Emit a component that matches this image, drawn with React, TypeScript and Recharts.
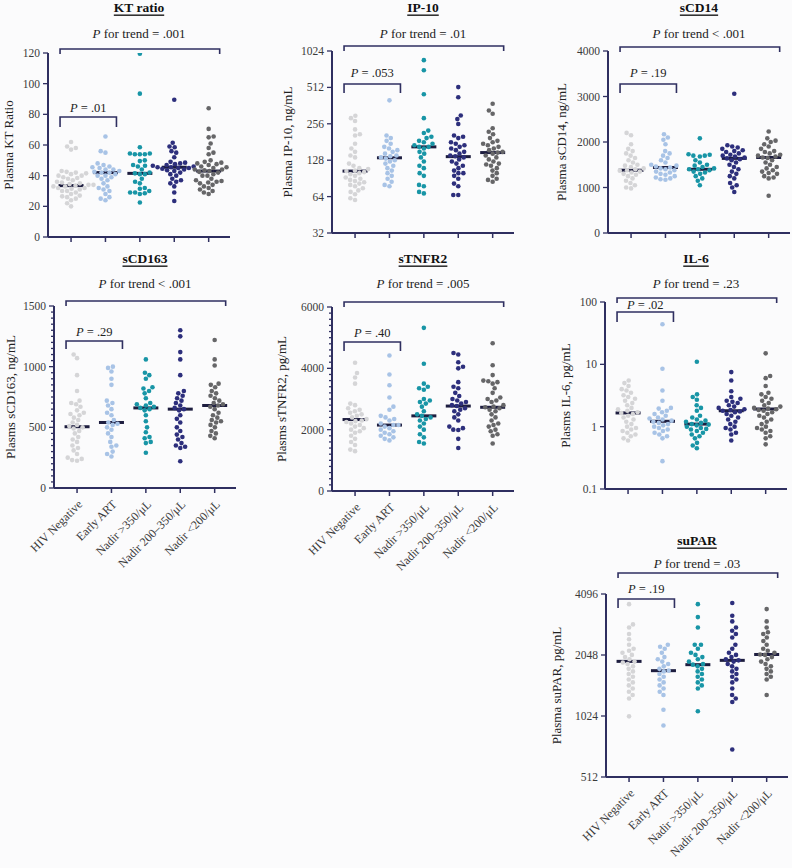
import React from "react";
import { ScatterChart, Scatter, XAxis, YAxis } from "recharts";

const groups = ["HIV Negative", "Early ART", "Nadir >350/\u03bcL", "Nadir 200\u2013350/\u03bcL", "Nadir <200/\u03bcL"];
const dotColors = ["#d5d5d7", "#a8c3e6", "#1895a6", "#2d2f7c", "#666668"];
const MEDIAN_COLOR = "#1d1d3f";
const AXIS_COLOR = "#2f2f60";
const TEXT_COLOR = "#3a3a3a";
const FONT = "'Liberation Serif', 'DejaVu Serif', serif";

// ---- KT ratio
const ktValues = [
  [62, 59, 58, 57, 43, 42.5, 42, 41.5, 41, 40, 40, 39, 38.5, 38, 37, 36, 35.5, 35, 34.5, 34, 34, 33.5, 33, 33, 32, 32, 31.5, 31, 30, 30, 29, 28, 27, 26.5, 26, 25, 24, 22, 20],
  [65.5, 56, 55, 48, 47, 46, 45.5, 45, 44, 44, 43, 42.5, 42, 42, 41, 40, 40, 39, 38, 37, 35, 33, 32, 31, 30, 28, 26, 25, 24],
  [119.5, 93.5, 58.5, 54.5, 54.5, 54, 54, 54, 50, 49.5, 47, 46.5, 46, 44, 42, 41.5, 41, 41, 38, 36, 35, 32, 31.5, 30, 29, 29, 28.5, 28, 22.5],
  [89.5, 61.5, 59, 58.5, 56, 55, 52, 49, 48.5, 48, 47.5, 47, 46.5, 46, 45.5, 45.5, 45, 45, 44.5, 44, 43.5, 43, 42, 41, 40, 38, 37, 36, 35, 33, 29, 23.5],
  [84, 70.5, 65.5, 65, 61, 58, 55, 54, 50, 49, 48.5, 48, 47.5, 47, 46, 45.5, 45, 44, 44, 43.5, 43, 42.5, 42, 41, 40, 40, 38, 37, 36.5, 36, 35.5, 35, 34, 33, 32, 31, 30, 29, 28],
];
const ktMedians = [33.5, 42, 41.5, 45.5, 43];
const ktTicks = [0, 20, 40, 60, 80, 100, 120];

// ---- IP-10
const ipValues = [
  [298, 285, 270, 230, 210, 205, 175, 160, 150, 140, 135, 120, 115, 110, 108, 105, 104, 102, 100, 98, 95, 92, 90, 88, 86, 84, 82, 80, 78, 75, 72, 70, 67, 62, 60],
  [400, 205, 195, 185, 175, 165, 160, 155, 150, 145, 140, 138, 135, 132, 128, 125, 120, 115, 110, 105, 100, 95, 90, 85, 80, 78],
  [860, 710, 450, 285, 225, 215, 200, 195, 185, 180, 175, 170, 165, 165, 160, 150, 145, 135, 125, 115, 110, 100, 95, 80, 78, 70, 68],
  [515, 425, 300, 280, 255, 205, 200, 195, 180, 175, 170, 165, 160, 155, 150, 145, 140, 138, 135, 130, 125, 120, 115, 110, 105, 100, 100, 95, 90, 82, 78, 66, 66],
  [375, 330, 310, 235, 220, 210, 195, 185, 180, 175, 170, 165, 160, 155, 150, 148, 145, 140, 135, 130, 125, 120, 118, 115, 110, 105, 100, 95, 90, 88, 85],
];
const ipMedians = [104, 134, 165, 137, 148];
const ipTicks = [32, 64, 128, 256, 512, 1024];

// ---- sCD14
const cd14Values = [
  [2200, 2150, 1950, 1850, 1800, 1750, 1700, 1650, 1600, 1550, 1500, 1480, 1450, 1420, 1400, 1380, 1370, 1350, 1330, 1300, 1280, 1250, 1200, 1150, 1100, 1050, 1000, 980],
  [2170, 2100, 2050, 1950, 1800, 1750, 1700, 1650, 1600, 1550, 1500, 1480, 1460, 1440, 1420, 1400, 1380, 1350, 1330, 1300, 1280, 1250, 1220, 1200, 1180, 1170],
  [2080, 1730, 1720, 1700, 1700, 1680, 1600, 1550, 1500, 1480, 1450, 1420, 1400, 1400, 1380, 1350, 1330, 1300, 1250, 1200, 1150, 1050],
  [3060, 1930, 1900, 1880, 1850, 1820, 1800, 1780, 1750, 1720, 1700, 1680, 1660, 1640, 1620, 1600, 1550, 1500, 1450, 1400, 1350, 1300, 1250, 1200, 1100, 1050, 1000, 900],
  [2230, 2080, 2030, 2000, 1950, 1900, 1850, 1800, 1780, 1750, 1720, 1700, 1680, 1660, 1650, 1600, 1550, 1500, 1450, 1420, 1380, 1350, 1320, 1300, 1250, 1220, 1200, 820],
];
const cd14Medians = [1380, 1440, 1400, 1640, 1660];
const cd14Ticks = [0, 1000, 2000, 3000, 4000];

// ---- sCD163
const cd163Values = [
  [1100, 1070, 930, 800, 720, 700, 690, 670, 640, 620, 610, 600, 580, 560, 540, 520, 510, 500, 490, 470, 450, 420, 400, 380, 350, 330, 310, 280, 250, 240, 230, 225],
  [1000, 990, 960, 900, 850, 720, 700, 680, 650, 620, 600, 560, 540, 530, 520, 500, 480, 450, 420, 380, 350, 340, 300, 280, 260],
  [1060, 950, 930, 900, 830, 820, 800, 780, 740, 700, 690, 680, 670, 660, 650, 640, 600, 550, 500, 460, 420, 410, 380, 370, 290],
  [1300, 1250, 1120, 1060, 930, 800, 780, 760, 740, 720, 700, 680, 660, 650, 640, 600, 570, 540, 500, 470, 440, 420, 400, 370, 350, 340, 330, 220],
  [1220, 1060, 1010, 860, 850, 830, 800, 780, 760, 740, 720, 700, 690, 680, 670, 650, 620, 600, 580, 560, 550, 540, 520, 500, 470, 450, 430, 410],
];
const cd163Medians = [505, 540, 660, 650, 680];
const cd163Ticks = [0, 500, 1000, 1500];

// ---- sTNFR2
const tnfValues = [
  [4180, 3850, 3700, 3500, 2850, 2800, 2700, 2650, 2600, 2550, 2500, 2450, 2400, 2350, 2300, 2280, 2250, 2200, 2150, 2100, 2050, 2000, 1950, 1900, 1800, 1700, 1600, 1500, 1350, 1300],
  [4420, 3800, 3450, 3050, 2750, 2650, 2450, 2400, 2350, 2300, 2200, 2150, 2150, 2100, 2050, 2000, 1950, 1900, 1850, 1800, 1750, 1700, 1650],
  [5320, 4150, 3500, 3400, 3350, 3300, 3000, 2950, 2900, 2850, 2750, 2600, 2500, 2450, 2400, 2350, 2300, 2200, 2100, 2000, 1850, 1750, 1600, 1550],
  [4500, 4450, 4200, 4050, 4000, 3550, 3400, 3350, 3200, 3100, 3000, 2950, 2900, 2850, 2800, 2770, 2700, 2650, 2600, 2500, 2400, 2300, 2100, 2050, 2000, 1990, 1700, 1400],
  [4820, 4100, 3780, 3600, 3580, 3550, 3500, 3350, 3200, 3050, 3000, 2950, 2900, 2800, 2750, 2730, 2700, 2650, 2600, 2500, 2400, 2300, 2200, 2150, 2100, 2000, 1950, 1850, 1800, 1550],
];
const tnfMedians = [2330, 2150, 2450, 2770, 2730];
const tnfTicks = [0, 2000, 4000, 6000];

// ---- IL-6
const il6Values = [
  [5.5, 5.0, 4.5, 4.0, 3.8, 3.5, 3.2, 3.0, 2.8, 2.6, 2.4, 2.2, 2.0, 1.9, 1.8, 1.7, 1.65, 1.6, 1.5, 1.4, 1.3, 1.2, 1.1, 1.0, 0.95, 0.9, 0.85, 0.8, 0.75, 0.7, 0.65, 0.6],
  [44, 8.5, 3.8, 2.6, 2.0, 1.95, 1.8, 1.7, 1.6, 1.5, 1.4, 1.35, 1.3, 1.25, 1.2, 1.15, 1.1, 1.05, 1.0, 0.95, 0.9, 0.85, 0.8, 0.75, 0.7, 0.65, 0.28],
  [11, 3.3, 3.0, 2.7, 2.2, 2.0, 1.8, 1.5, 1.4, 1.3, 1.25, 1.2, 1.15, 1.1, 1.08, 1.05, 1.0, 0.95, 0.92, 0.9, 0.85, 0.8, 0.75, 0.7, 0.65, 0.55, 0.5, 0.45],
  [7.5, 5.5, 3.7, 3.0, 2.8, 2.6, 2.5, 2.4, 2.2, 2.1, 2.0, 1.9, 1.85, 1.8, 1.75, 1.7, 1.6, 1.5, 1.4, 1.3, 1.2, 1.1, 1.0, 0.95, 0.9, 0.8, 0.75, 0.6],
  [15, 6.5, 6.0, 4.5, 3.5, 3.3, 3.0, 2.8, 2.6, 2.4, 2.2, 2.1, 2.0, 1.95, 1.9, 1.85, 1.8, 1.7, 1.6, 1.5, 1.4, 1.3, 1.2, 1.1, 1.0, 0.95, 0.9, 0.85, 0.8, 0.7, 0.65, 0.52],
];
const il6Medians = [1.66, 1.22, 1.1, 1.8, 1.92];
const il6Ticks = [0.1, 1, 10, 100];

// ---- suPAR
const suparValues = [
  [3650, 2900, 2800, 2600, 2450, 2300, 2200, 2150, 2100, 2050, 2000, 1950, 1900, 1880, 1850, 1800, 1750, 1700, 1650, 1600, 1550, 1500, 1450, 1400, 1350, 1300, 1250, 1020],
  [2300, 2250, 2200, 2100, 2000, 1950, 1900, 1850, 1800, 1750, 1714, 1700, 1650, 1600, 1550, 1500, 1450, 1400, 1350, 1300, 1100, 920],
  [3650, 3150, 2800, 2300, 2300, 2200, 2100, 2050, 2000, 1950, 1900, 1850, 1835, 1800, 1750, 1700, 1650, 1600, 1550, 1500, 1450, 1400, 1080],
  [3700, 3200, 3000, 2800, 2700, 2600, 2500, 2300, 2200, 2100, 2050, 2000, 1950, 1927, 1900, 1850, 1800, 1750, 1700, 1650, 1600, 1550, 1500, 1400, 1300, 1250, 1200, 700],
  [3450, 3000, 2800, 2650, 2600, 2500, 2400, 2300, 2200, 2150, 2100, 2060, 2050, 2000, 1950, 1900, 1850, 1800, 1750, 1700, 1650, 1600, 1550, 1300],
];
const suparMedians = [1905, 1714, 1835, 1927, 2060];
const suparTicks = [512, 1024, 2048, 4096];

const PW = 182;
const XMIN = -0.67;
const XMAX = 4.62;
const PX_PER_UNIT = PW / (XMAX - XMIN);

type Panel = {
  title: string;
  yLabel: string;
  values: number[][];
  medians: number[];
  ticks: number[];
  minorStep?: number;
  log: boolean;
  trend: string;
  pair: string;
  left: number;
  top: number;
  h: number;
  showX: boolean;
  titleDy: number;
  trendDy: number;
  trendLine: [number, number];
  pairDy: number;
  pairLine: [number, number];
  yLabelDx: number;
};

const panels: Panel[] = [
  { title: "KT ratio", yLabel: "Plasma KT Ratio", values: ktValues, medians: ktMedians, ticks: ktTicks, log: false, trend: "for trend = .001", pair: "= .01", left: 48, top: 53, h: 184, showX: false, titleDy: -46, trendDy: -20, trendLine: [-4, 1], pairDy: 55, pairLine: [64, 74], yLabelDx: -40 },
  { title: "IP-10", yLabel: "Plasma IP-10, ng/mL", values: ipValues, medians: ipMedians, ticks: ipTicks, log: true, trend: "for trend = .01", pair: "= .053", left: 332, top: 51, h: 182, showX: false, titleDy: -44, trendDy: -18, trendLine: [-5, 0], pairDy: 22, pairLine: [33, 42], yLabelDx: -45 },
  { title: "sCD14", yLabel: "Plasma sCD14, ng/mL", values: cd14Values, medians: cd14Medians, ticks: cd14Ticks, log: false, trend: "for  trend < .001", pair: "= .19", left: 608, top: 51, h: 182, showX: false, titleDy: -44, trendDy: -18, trendLine: [-4, 1], pairDy: 22, pairLine: [33, 42], yLabelDx: -47 },
  { title: "sCD163", yLabel: "Plasms sCD163, ng/mL", values: cd163Values, medians: cd163Medians, ticks: cd163Ticks, minorStep: 50, log: false, trend: "for trend < .001", pair: "= .29", left: 54, top: 306, h: 182, showX: true, titleDy: -48, trendDy: -23, trendLine: [-5, 0], pairDy: 26, pairLine: [35, 43], yLabelDx: -44 },
  { title: "sTNFR2", yLabel: "Plasms sTNFR2, pg/mL", values: tnfValues, medians: tnfMedians, ticks: tnfTicks, minorStep: 200, log: false, trend: "for trend = .005", pair: "= .40", left: 332, top: 307, h: 184, showX: true, titleDy: -49, trendDy: -24, trendLine: [-5, 0], pairDy: 26, pairLine: [35, 44], yLabelDx: -51 },
  { title: "IL-6", yLabel: "Plasms IL-6, pg/mL", values: il6Values, medians: il6Medians, ticks: il6Ticks, log: true, trend: "for trend = .23", pair: "= .02", left: 605, top: 302, h: 187, showX: false, titleDy: -44, trendDy: -19, trendLine: [-4, 1], pairDy: 3, pairLine: [10, 20], yLabelDx: -40 },
  { title: "suPAR", yLabel: "Plasma suPAR, pg/mL", values: suparValues, medians: suparMedians, ticks: suparTicks, log: true, trend: "for trend = .03", pair: "= .19", left: 606, top: 594, h: 183, showX: true, titleDy: -54, trendDy: -31, trendLine: [-21, -16], pairDy: -5, pairLine: [5, 14], yLabelDx: -50 },
];

// Pixel height of a value inside the plot, used only to spread the swarm sideways.
function valueToPx(p: Panel, v: number) {
  const lo = p.ticks[0];
  const hi = p.ticks[p.ticks.length - 1];
  const f = p.log ? Math.log(v / lo) / Math.log(hi / lo) : (v - lo) / (hi - lo);
  return p.h * (1 - f);
}

// Simple beeswarm: place each dot as close to the centre as it can go without overlap.
function swarm(values: number[], toPx: (v: number) => number, d = 5) {
  const order = values.map((_, i) => i).sort((a, b) => values[a] - values[b]);
  const placed: { x: number; y: number }[] = [];
  const out: number[] = new Array(values.length).fill(0);
  order.forEach((i, n) => {
    const y = toPx(values[i]);
    const near = placed.filter((q) => Math.abs(q.y - y) < d);
    const cands = [0];
    near.forEach((q) => {
      const dx = Math.sqrt(d * d - (q.y - y) ** 2);
      cands.push(q.x + dx, q.x - dx);
    });
    const sign = n % 2 === 0 ? 1 : -1;
    cands.sort((a, b) => Math.abs(a) - Math.abs(b) || sign * (b - a));
    let best = 0;
    for (const c of cands) {
      if (near.every((q) => (q.x - c) ** 2 + (q.y - y) ** 2 >= d * d - 0.01)) {
        best = c;
        break;
      }
    }
    placed.push({ x: best, y });
    out[i] = best;
  });
  return out;
}

const YW = 60;
const XH = 100;
const MT = 6;
const MR = 6;

function PanelChart({ p }: { p: Panel }) {
  const series = p.values.map((vals, g) => {
    const offs = swarm(vals, (v) => valueToPx(p, v));
    return vals.map((v, k) => ({ x: g + offs[k] / PX_PER_UNIT, y: v }));
  });
  const medianData = p.medians.map((m, g) => ({ x: g, y: m }));
  const lo = p.ticks[0];
  const hi = p.ticks[p.ticks.length - 1];
  const allTicks: number[] = [];
  if (p.minorStep) {
    for (let v = lo; v <= hi + 1e-9; v += p.minorStep) allTicks.push(v);
  } else {
    allTicks.push(...p.ticks);
  }

  const yTick = (props: any) => {
    const { x, y, payload } = props;
    const major = p.ticks.includes(payload.value);
    return (
      <g>
        <line x1={x - (major ? 5 : 3)} y1={y} x2={x} y2={y} stroke={AXIS_COLOR} strokeWidth={1.3} />
        {major && (
          <text x={x - 8} y={y} dy={4} textAnchor="end" fontSize={11.5} fontFamily={FONT} fill={TEXT_COLOR}>
            {payload.value}
          </text>
        )}
      </g>
    );
  };

  const xTick = (props: any) => {
    const { x, y, payload } = props;
    const ax = x + 6;
    const ay = y + 17;
    return (
      <g>
        <line x1={x} y1={y} x2={x} y2={y + 5} stroke={AXIS_COLOR} strokeWidth={1.5} />
        {p.showX && (
          <text x={ax} y={ay} transform={`rotate(-45 ${ax} ${ay})`} textAnchor="end" fontSize={12} fontFamily={FONT} fill={TEXT_COLOR}>
            {groups[payload.value]}
          </text>
        )}
      </g>
    );
  };

  return (
    <div style={{ position: "absolute", left: p.left - YW, top: p.top - MT }}>
      <ScatterChart width={YW + PW + MR} height={MT + p.h + XH} margin={{ top: MT, right: MR, left: 0, bottom: 0 }}>
        <XAxis
          type="number"
          dataKey="x"
          domain={[XMIN, XMAX]}
          ticks={[0, 1, 2, 3, 4]}
          allowDataOverflow
          interval={0}
          tickSize={0}
          tickMargin={0}
          tickLine={false}
          axisLine={{ stroke: AXIS_COLOR, strokeWidth: 2 }}
          height={XH}
          tick={xTick}
        />
        <YAxis
          type="number"
          dataKey="y"
          scale={p.log ? "log" : "linear"}
          domain={[lo, hi]}
          ticks={allTicks}
          allowDataOverflow
          interval={0}
          tickSize={0}
          tickMargin={0}
          tickLine={false}
          axisLine={{ stroke: AXIS_COLOR, strokeWidth: 2 }}
          width={YW}
          tick={yTick}
        />
        <Scatter
          data={medianData}
          isAnimationActive={false}
          shape={(s: any) => <rect x={s.cx - 12.5} y={s.cy - 1.5} width={25} height={3} fill={MEDIAN_COLOR} />}
        />
        {series.map((d, g) => (
          <Scatter
            key={g}
            data={d}
            isAnimationActive={false}
            shape={(s: any) => <circle cx={s.cx} cy={s.cy} r={2.3} fill={dotColors[g]} />}
          />
        ))}
      </ScatterChart>
    </div>
  );
}

function Annotations({ p }: { p: Panel }) {
  const tickX = (i: number) => p.left + (i - XMIN) * PX_PER_UNIT;
  const cx = p.left + 91;
  const t0 = tickX(0) - 11;
  const t1 = tickX(1) + 11;
  const t4 = tickX(4) + 11;
  const [tl, tg] = p.trendLine;
  const [pl, pg] = p.pairLine;
  const stroke = { stroke: AXIS_COLOR, strokeWidth: 1.6, fill: "none" };
  return (
    <g fontFamily={FONT}>
      <text x={cx} y={p.top + p.titleDy} textAnchor="middle" dominantBaseline="central" fontSize={13.5} fontWeight="bold" fill="#111" style={{ textDecoration: "underline" }}>
        {p.title}
      </text>
      <text x={cx} y={p.top + p.trendDy} textAnchor="middle" dominantBaseline="central" fontSize={13} fill="#222">
        <tspan fontStyle="italic">P</tspan> {p.trend}
      </text>
      <polyline points={`${t0},${p.top + tg} ${t0},${p.top + tl} ${t4},${p.top + tl} ${t4},${p.top + tg}`} {...stroke} />
      <text x={(t0 + t1) / 2} y={p.top + p.pairDy} textAnchor="middle" dominantBaseline="central" fontSize={12.5} fill="#222">
        <tspan fontStyle="italic">P</tspan> {p.pair}
      </text>
      <polyline points={`${t0},${p.top + pg} ${t0},${p.top + pl} ${t1},${p.top + pl} ${t1},${p.top + pg}`} {...stroke} />
      <text
        x={p.left + p.yLabelDx}
        y={p.top + p.h / 2}
        transform={`rotate(-90 ${p.left + p.yLabelDx} ${p.top + p.h / 2})`}
        textAnchor="middle"
        dominantBaseline="central"
        fontSize={13}
        fill="#222"
      >
        {p.yLabel}
      </text>
    </g>
  );
}

export default function App() {
  return (
    <div style={{ position: "absolute", left: 0, top: 0, width: 792, height: 868, background: "#fbfbfc", overflow: "hidden" }}>
      {panels.map((p) => (
        <PanelChart key={p.title} p={p} />
      ))}
      <svg width={792} height={868} style={{ position: "absolute", left: 0, top: 0, pointerEvents: "none" }}>
        {panels.map((p) => (
          <Annotations key={p.title} p={p} />
        ))}
      </svg>
    </div>
  );
}
